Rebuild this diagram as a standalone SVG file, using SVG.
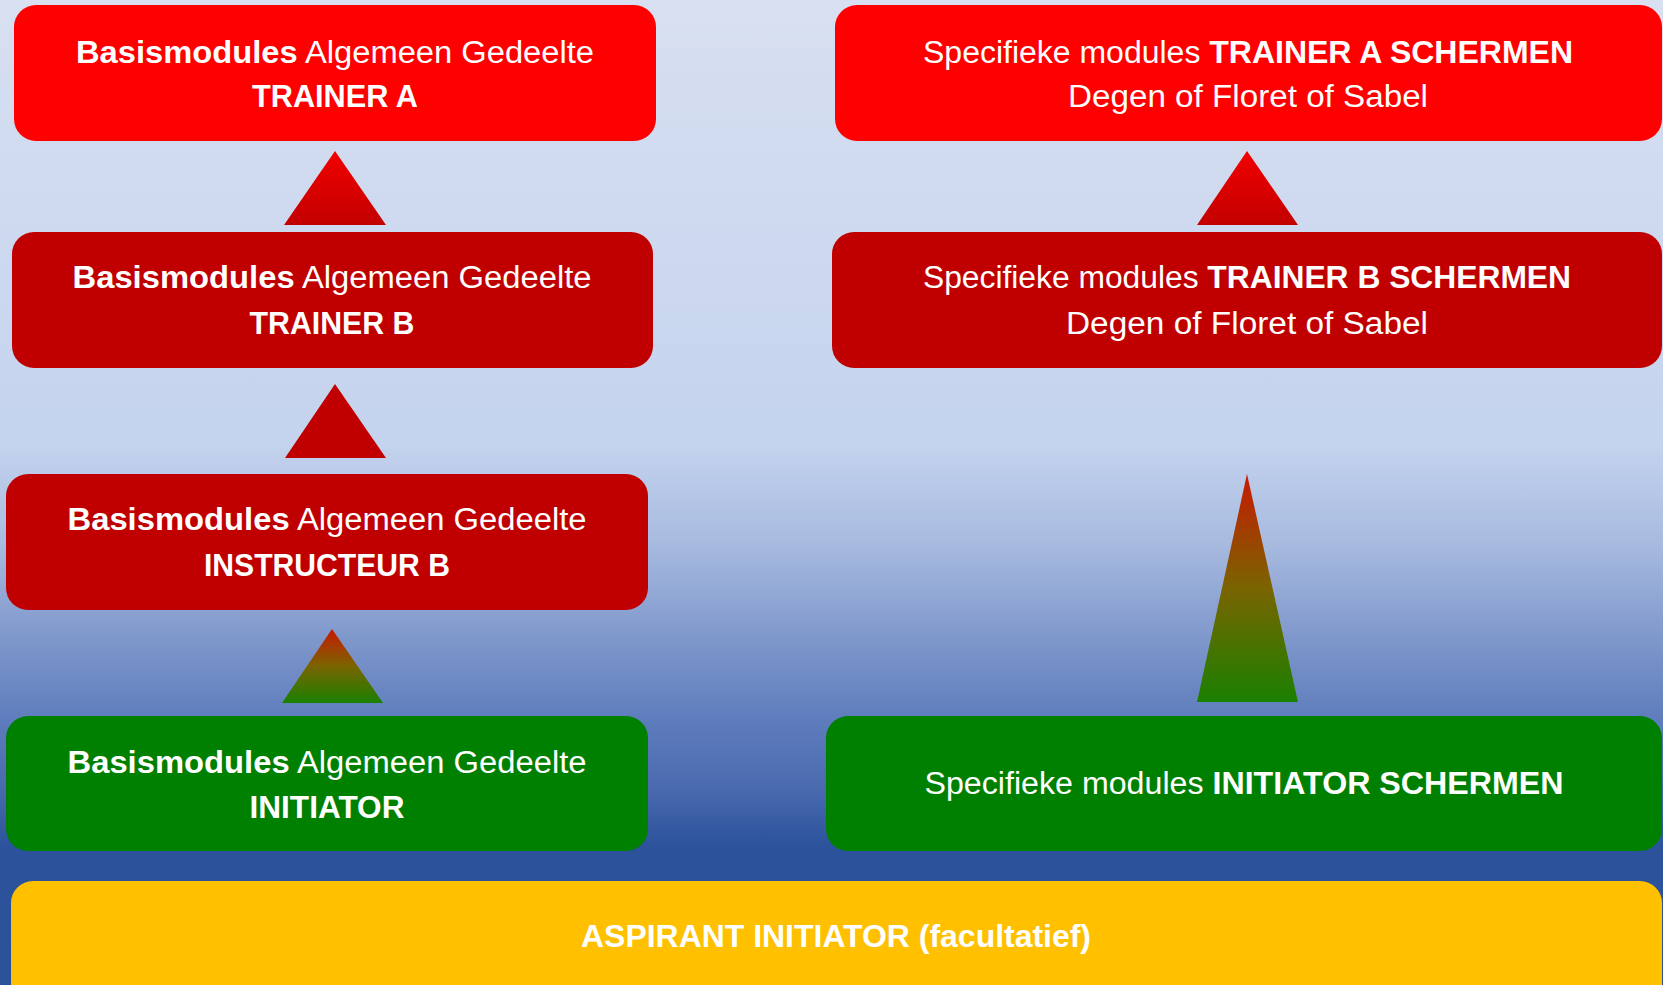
<svg xmlns="http://www.w3.org/2000/svg" width="1663" height="985" viewBox="0 0 1663 985">
<defs>
<linearGradient id="bg" x1="0" y1="0" x2="0" y2="1">
<stop offset="0" stop-color="#D8E0F1"/>
<stop offset="0.45" stop-color="#C4D3EE"/>
<stop offset="0.55" stop-color="#A8BBE0"/>
<stop offset="0.65" stop-color="#7E97CB"/>
<stop offset="0.73" stop-color="#5F7DBD"/>
<stop offset="0.8" stop-color="#4A6AAF"/>
<stop offset="0.86" stop-color="#2B529B"/>
<stop offset="1" stop-color="#2A5199"/>
</linearGradient>
<linearGradient id="redg" x1="0" y1="0" x2="0" y2="1">
<stop offset="0" stop-color="#F20000"/>
<stop offset="1" stop-color="#C20000"/>
</linearGradient>
<linearGradient id="rgg" x1="0" y1="0" x2="0" y2="1">
<stop offset="0" stop-color="#C81800"/>
<stop offset="0.5" stop-color="#7A6400"/>
<stop offset="1" stop-color="#1A8000"/>
</linearGradient>
<style>
.t{font-family:"Liberation Sans",Arial,sans-serif;font-size:31px;fill:#FFFFFF;text-anchor:middle}
.b{font-weight:bold}
</style>
</defs>
<rect x="0" y="0" width="1663" height="985" fill="url(#bg)"/>
<g id="connectors">
<polygon points="335,151 386,225 284,225" fill="url(#redg)"/>
<polygon points="335,384 386,458 285,458" fill="#C00000"/>
<polygon points="332,629 383,703 282,703" fill="url(#rgg)"/>
<polygon points="1247,151 1298,225 1197,225" fill="url(#redg)"/>
<polygon points="1247,474 1298,702 1197,702" fill="url(#rgg)"/>
</g>
<g id="trainerA">
<rect x="14" y="5" width="642" height="136" rx="22" fill="#FF0000"/>
<text class="t" x="335" y="63" textLength="518" lengthAdjust="spacingAndGlyphs"><tspan class="b">Basismodules</tspan> Algemeen Gedeelte</text>
<text class="t b" x="335" y="107" textLength="166" lengthAdjust="spacingAndGlyphs">TRAINER A</text>
</g>
<g id="trainerB">
<rect x="12" y="232" width="641" height="136" rx="22" fill="#C00000"/>
<text class="t" x="332" y="288" textLength="519" lengthAdjust="spacingAndGlyphs"><tspan class="b">Basismodules</tspan> Algemeen Gedeelte</text>
<text class="t b" x="332" y="334" textLength="165" lengthAdjust="spacingAndGlyphs">TRAINER B</text>
</g>
<g id="instructeurB">
<rect x="6" y="474" width="642" height="136" rx="22" fill="#C00000"/>
<text class="t" x="327" y="530" textLength="519" lengthAdjust="spacingAndGlyphs"><tspan class="b">Basismodules</tspan> Algemeen Gedeelte</text>
<text class="t b" x="327" y="576" textLength="246" lengthAdjust="spacingAndGlyphs">INSTRUCTEUR B</text>
</g>
<g id="initiator">
<rect x="6" y="716" width="642" height="135" rx="22" fill="#008000"/>
<text class="t" x="327" y="773" textLength="519" lengthAdjust="spacingAndGlyphs"><tspan class="b">Basismodules</tspan> Algemeen Gedeelte</text>
<text class="t b" x="327" y="818" textLength="155" lengthAdjust="spacingAndGlyphs">INITIATOR</text>
</g>
<g id="specA">
<rect x="835" y="5" width="827" height="136" rx="22" fill="#FF0000"/>
<text class="t" x="1248" y="63" textLength="650" lengthAdjust="spacingAndGlyphs">Specifieke modules <tspan class="b">TRAINER A SCHERMEN</tspan></text>
<text class="t" x="1248" y="107" textLength="360" lengthAdjust="spacingAndGlyphs">Degen of Floret of Sabel</text>
</g>
<g id="specB">
<rect x="832" y="232" width="830" height="136" rx="22" fill="#C00000"/>
<text class="t" x="1247" y="288" textLength="648" lengthAdjust="spacingAndGlyphs">Specifieke modules <tspan class="b">TRAINER B SCHERMEN</tspan></text>
<text class="t" x="1247" y="334" textLength="362" lengthAdjust="spacingAndGlyphs">Degen of Floret of Sabel</text>
</g>
<g id="specInitiator">
<rect x="826" y="716" width="836" height="135" rx="22" fill="#008000"/>
<text class="t" x="1244" y="794" textLength="639" lengthAdjust="spacingAndGlyphs">Specifieke modules <tspan class="b">INITIATOR SCHERMEN</tspan></text>
</g>
<g id="aspirant">
<rect x="11" y="881" width="1651" height="130" rx="22" fill="#FFC000"/>
<text class="t b" x="836" y="947" textLength="510" lengthAdjust="spacingAndGlyphs">ASPIRANT INITIATOR (facultatief)</text>
</g>
</svg>
